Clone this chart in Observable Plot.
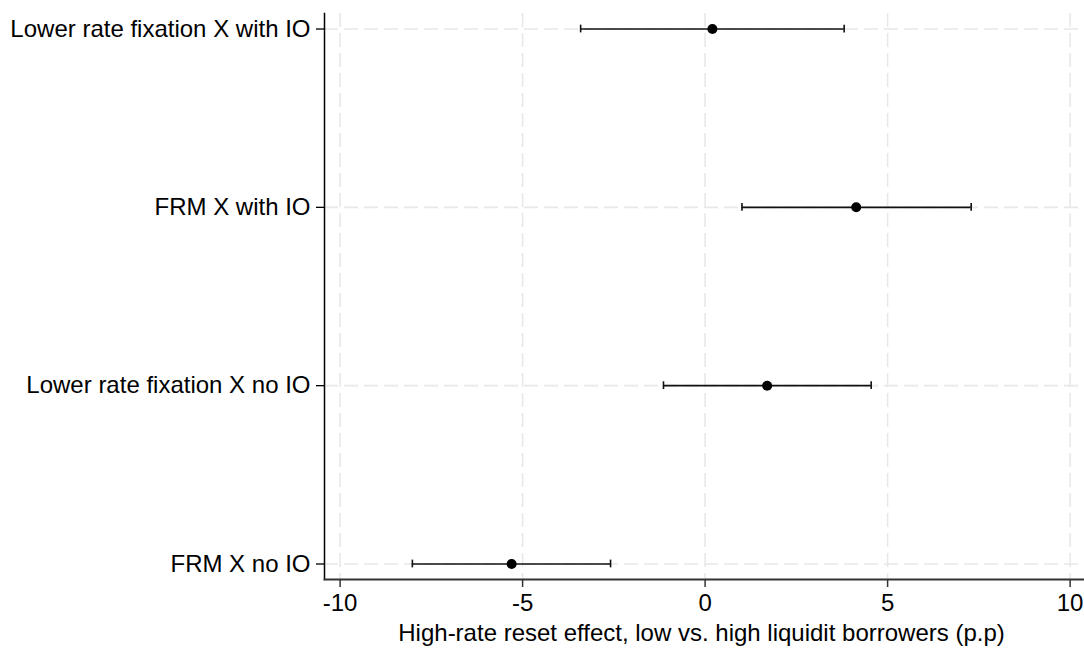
<!DOCTYPE html>
<html>
<head>
<meta charset="utf-8">
<script src="https://cdn.jsdelivr.net/npm/d3@7"></script>
<script src="https://cdn.jsdelivr.net/npm/@observablehq/plot@0.6"></script>
<style>
  html, body { margin: 0; padding: 0; background: #fff; }
  #chart svg { display: block; }
</style>
</head>
<body>
<div id="chart"></div>
<script>
// Coefficient estimates with confidence intervals, one row per interaction term
const labels = [
  "Lower rate fixation X with IO",
  "FRM X with IO",
  "Lower rate fixation X no IO",
  "FRM X no IO"
];
const estimates = [0.20, 4.14, 1.70, -5.30];
const lower = [-3.41, 1.01, -1.14, -8.02];
const upper = [3.81, 7.29, 4.55, -2.59];
const xTicks = [-10, -5, 0, 5, 10];
const xTitle = "High-rate reset effect, low vs. high liquidit borrowers (p.p)";

const rows = labels.map((label, i) => ({
  label,
  est: estimates[i],
  lo: lower[i],
  hi: upper[i]
}));

const gridStyle = {
  stroke: "#e8e8e8",
  strokeOpacity: 1,
  strokeWidth: 1.6,
  strokeDasharray: "14,6"
};

const chart = Plot.plot({
  width: 1084,
  height: 650,
  marginLeft: 324,
  marginRight: 0,
  marginTop: 13,
  marginBottom: 71,
  style: {
    fontFamily: "'Liberation Sans', Arial, sans-serif",
    background: "#fff",
    color: "#000"
  },
  x: { domain: [-10, 10], insetLeft: 15.6, insetRight: 14.4 },
  y: { domain: labels, paddingInner: 0.906, paddingOuter: 0.04, round: false },
  marks: [
    Plot.gridX(xTicks, gridStyle),
    Plot.gridY(labels, gridStyle),
    // confidence interval whiskers with end caps
    Plot.ruleY(rows, { y: "label", x1: "lo", x2: "hi", stroke: "#111", strokeWidth: 1.6 }),
    Plot.tickX(rows, { x: "lo", y: "label", stroke: "#111", strokeWidth: 1.6, insetTop: 4.5, insetBottom: 4.5 }),
    Plot.tickX(rows, { x: "hi", y: "label", stroke: "#111", strokeWidth: 1.6, insetTop: 4.5, insetBottom: 4.5 }),
    // point estimates
    Plot.dot(rows, { x: "est", y: "label", r: 5, fill: "#000", stroke: "none" }),
    // axis lines
    Plot.frame({ anchor: "left", stroke: "#000", strokeWidth: 1.5 }),
    Plot.frame({ anchor: "bottom", stroke: "#333", strokeWidth: 1.8 }),
    Plot.axisY({
      tickSize: 8,
      tickPadding: 6,
      fontSize: 24,
      label: null,
      stroke: "#000",
      strokeWidth: 1.3
    }),
    Plot.axisX(xTicks, {
      tickSize: 8,
      tickPadding: 6,
      fontSize: 24,
      label: null,
      stroke: "#333",
      strokeWidth: 1.5,
      tickFormat: d => String(d)
    }),
    Plot.text([xTitle], {
      frameAnchor: "bottom",
      dx: -3,
      dy: 61,
      fontSize: 24,
      fill: "#000"
    })
  ]
});

document.getElementById("chart").append(chart);
</script>
</body>
</html>
